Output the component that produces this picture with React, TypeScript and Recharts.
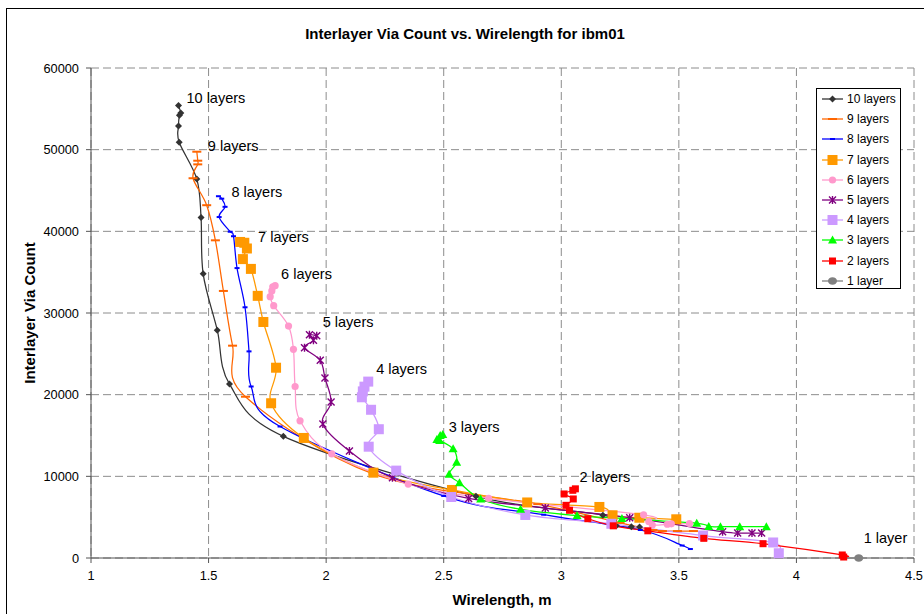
import React from 'react';
import { LineChart, Line, XAxis, YAxis, CartesianGrid } from 'recharts';

const FONT = '"Liberation Sans", Arial, Helvetica, sans-serif';

const xTicks = [1, 1.5, 2, 2.5, 3, 3.5, 4, 4.5];
const yTicks = [0, 10000, 20000, 30000, 40000, 50000, 60000];

// wirelength (m) / interlayer via count per layer stack, ordered from the top of each curve
const layers10 = [
  { x: 1.372, y: 55400 }, { x: 1.382, y: 54500 }, { x: 1.376, y: 54200 }, { x: 1.372, y: 52900 },
  { x: 1.375, y: 50900 }, { x: 1.45, y: 46400 }, { x: 1.468, y: 41700 }, { x: 1.477, y: 34800 },
  { x: 1.537, y: 27900 }, { x: 1.589, y: 21300 }, { x: 1.818, y: 14900 }, { x: 2.637, y: 7550 },
  { x: 3.177, y: 5240 }, { x: 3.234, y: 3950 }, { x: 3.298, y: 3830 }, { x: 3.333, y: 3800 },
];
const layers9 = [
  { x: 1.45, y: 49750 }, { x: 1.454, y: 48650 }, { x: 1.454, y: 48200 }, { x: 1.434, y: 46500 },
  { x: 1.492, y: 43200 }, { x: 1.529, y: 38900 }, { x: 1.563, y: 32700 }, { x: 1.602, y: 26000 },
  { x: 1.657, y: 19750 }, { x: 2.2, y: 10300 }, { x: 2.9, y: 6600 }, { x: 3.25, y: 4300 },
  { x: 3.39, y: 3430 }, { x: 3.43, y: 3300 }, { x: 3.494, y: 3300 }, { x: 3.562, y: 3300 },
];
const layers8 = [
  { x: 1.542, y: 44300 }, { x: 1.556, y: 44000 }, { x: 1.57, y: 43000 }, { x: 1.545, y: 41750 },
  { x: 1.592, y: 39950 }, { x: 1.606, y: 39400 }, { x: 1.621, y: 35500 }, { x: 1.655, y: 30700 },
  { x: 1.672, y: 25300 }, { x: 1.681, y: 21000 }, { x: 1.804, y: 16100 }, { x: 2.5, y: 7600 },
  { x: 2.925, y: 5300 }, { x: 3.336, y: 3430 }, { x: 3.514, y: 1530 }, { x: 3.549, y: 1100 },
];
const layers7 = [
  { x: 1.634, y: 38700 }, { x: 1.652, y: 38600 }, { x: 1.663, y: 37900 }, { x: 1.646, y: 36600 },
  { x: 1.68, y: 35400 }, { x: 1.709, y: 32100 }, { x: 1.733, y: 28900 }, { x: 1.787, y: 23300 },
  { x: 1.766, y: 18950 }, { x: 1.905, y: 14700 }, { x: 2.201, y: 10450 }, { x: 2.535, y: 8330 },
  { x: 2.855, y: 6800 }, { x: 3.162, y: 6250 }, { x: 3.218, y: 5230 }, { x: 3.332, y: 4930 },
  { x: 3.489, y: 4740 },
];
const layers6 = [
  { x: 1.783, y: 33350 }, { x: 1.773, y: 33200 }, { x: 1.769, y: 32700 }, { x: 1.762, y: 32000 },
  { x: 1.777, y: 30900 }, { x: 1.84, y: 28400 }, { x: 1.861, y: 25550 }, { x: 1.868, y: 21000 },
  { x: 1.889, y: 16800 }, { x: 2.024, y: 12750 }, { x: 2.349, y: 9050 }, { x: 2.691, y: 7300 },
  { x: 3.35, y: 5290 }, { x: 3.372, y: 4470 }, { x: 3.387, y: 4040 }, { x: 3.451, y: 4130 },
  { x: 3.468, y: 4190 }, { x: 3.545, y: 4220 },
];
const layers5 = [
  { x: 1.96, y: 27200 }, { x: 1.929, y: 27350 }, { x: 1.946, y: 26650 }, { x: 1.908, y: 25750 },
  { x: 1.975, y: 24200 }, { x: 1.995, y: 22050 }, { x: 2.021, y: 19100 }, { x: 1.986, y: 16400 },
  { x: 2.099, y: 13100 }, { x: 2.282, y: 9830 }, { x: 2.606, y: 7300 }, { x: 2.932, y: 6120 },
  { x: 3.291, y: 4930 }, { x: 3.686, y: 3220 }, { x: 3.75, y: 3060 }, { x: 3.811, y: 3060 },
  { x: 3.852, y: 3060 },
];
const layers4 = [
  { x: 2.179, y: 21600 }, { x: 2.163, y: 20980 }, { x: 2.156, y: 20400 }, { x: 2.152, y: 19680 },
  { x: 2.191, y: 18150 }, { x: 2.224, y: 15770 }, { x: 2.181, y: 13630 }, { x: 2.298, y: 10700 },
  { x: 2.532, y: 7470 }, { x: 2.847, y: 5270 }, { x: 3.213, y: 4190 }, { x: 3.603, y: 2750 },
  { x: 3.901, y: 1900 }, { x: 3.925, y: 580 },
];
const layers3 = [
  { x: 2.496, y: 15120 }, { x: 2.485, y: 15000 }, { x: 2.471, y: 14500 }, { x: 2.483, y: 14390 },
  { x: 2.54, y: 13370 }, { x: 2.555, y: 11730 }, { x: 2.523, y: 10260 }, { x: 2.567, y: 9220 },
  { x: 2.657, y: 7230 }, { x: 2.827, y: 5960 }, { x: 3.067, y: 5200 }, { x: 3.258, y: 4840 },
  { x: 3.576, y: 4250 }, { x: 3.627, y: 3860 }, { x: 3.677, y: 3830 }, { x: 3.759, y: 3830 },
  { x: 3.872, y: 3830 },
];
const layers2 = [
  { x: 3.06, y: 8470 }, { x: 3.049, y: 8290 }, { x: 3.012, y: 7840 }, { x: 3.051, y: 7230 },
  { x: 3.02, y: 6450 }, { x: 3.035, y: 5840 }, { x: 3.113, y: 4810 }, { x: 3.221, y: 3940 },
  { x: 3.368, y: 3330 }, { x: 3.606, y: 2410 }, { x: 3.858, y: 1750 }, { x: 4.195, y: 370 },
  { x: 4.201, y: 120 },
];
const layers1 = [{ x: 4.265, y: 0 }];

type Shape = 'diamond' | 'dash' | 'tick' | 'bigSquare' | 'circle' | 'star' | 'triangle' | 'square' | 'dot';

const series: { name: string; data: { x: number; y: number }[]; color: string; shape: Shape; dx: number; dy: number }[] = [
  { name: '10 layers', data: layers10, color: '#333333', shape: 'diamond', dx: 8, dy: -8 },
  { name: '9 layers', data: layers9, color: '#FF6600', shape: 'dash', dx: 11, dy: -6 },
  { name: '8 layers', data: layers8, color: '#0000FF', shape: 'tick', dx: 13, dy: -4 },
  { name: '7 layers', data: layers7, color: '#FF9900', shape: 'bigSquare', dx: 18, dy: -5 },
  { name: '6 layers', data: layers6, color: '#FF99CC', shape: 'circle', dx: 6, dy: -12 },
  { name: '5 layers', data: layers5, color: '#800080', shape: 'star', dx: 6, dy: -14 },
  { name: '4 layers', data: layers4, color: '#CC99FF', shape: 'bigSquare', dx: 8, dy: -13 },
  { name: '3 layers', data: layers3, color: '#00FF00', shape: 'triangle', dx: 6, dy: -8 },
  { name: '2 layers', data: layers2, color: '#FF0000', shape: 'square', dx: 4, dy: -12 },
  { name: '1 layer', data: layers1, color: '#808080', shape: 'dot', dx: 5, dy: -20 },
];

// Catmull-Rom style smoothing, close to the spreadsheet "smoothed line" look
const smoothCurve = (context: any) => {
  let pts: number[][] = [];
  return {
    areaStart() {},
    areaEnd() {},
    lineStart() {
      pts = [];
    },
    point(x: number, y: number) {
      pts.push([+x, +y]);
    },
    lineEnd() {
      const n = pts.length;
      if (!n) return;
      context.moveTo(pts[0][0], pts[0][1]);
      for (let i = 0; i < n - 1; i++) {
        const p0 = pts[i - 1] || pts[i];
        const p1 = pts[i];
        const p2 = pts[i + 1];
        const p3 = pts[i + 2] || p2;
        context.bezierCurveTo(
          p1[0] + (p2[0] - p0[0]) / 6,
          p1[1] + (p2[1] - p0[1]) / 6,
          p2[0] - (p3[0] - p1[0]) / 6,
          p2[1] - (p3[1] - p1[1]) / 6,
          p2[0],
          p2[1],
        );
      }
    },
  };
};

function Marker({ shape, color, cx, cy }: { shape: Shape; color: string; cx: number; cy: number }) {
  switch (shape) {
    case 'diamond':
      return <path d={`M${cx},${cy - 3.5}L${cx + 3.5},${cy}L${cx},${cy + 3.5}L${cx - 3.5},${cy}Z`} fill={color} />;
    case 'dash':
      return <rect x={cx - 4.5} y={cy - 1} width={9} height={2} fill={color} />;
    case 'tick':
      return <rect x={cx - 2.5} y={cy - 1} width={5} height={2} fill={color} />;
    case 'bigSquare':
      return <rect x={cx - 5} y={cy - 5} width={10} height={10} fill={color} />;
    case 'circle':
      return <circle cx={cx} cy={cy} r={3.6} fill={color} />;
    case 'star':
      return (
        <path
          d={`M${cx - 3.5},${cy - 3.5}L${cx + 3.5},${cy + 3.5}M${cx - 3.5},${cy + 3.5}L${cx + 3.5},${cy - 3.5}M${cx},${cy - 4}L${cx},${cy + 4}`}
          stroke={color}
          strokeWidth={1.4}
          fill="none"
        />
      );
    case 'triangle':
      return <path d={`M${cx},${cy - 4.5}L${cx + 4.5},${cy + 3.5}L${cx - 4.5},${cy + 3.5}Z`} fill={color} />;
    case 'square':
      return <rect x={cx - 3.5} y={cy - 3.5} width={7} height={7} fill={color} />;
    default:
      return <ellipse cx={cx} cy={cy} rx={4.5} ry={3.8} fill={color} />;
  }
}

const makeDot = (s: (typeof series)[number]) => (props: any) => {
  const { cx, cy, index } = props;
  return (
    <g key={`${s.name}-${index}`}>
      <Marker shape={s.shape} color={s.color} cx={cx} cy={cy} />
      {index === 0 && (
        <text x={cx + s.dx} y={cy + s.dy} fontSize={14.5} fontFamily={FONT} fill="#000" dominantBaseline="central">
          {s.name}
        </text>
      )}
    </g>
  );
};

function LegendBox() {
  return (
    <div
      style={{
        position: 'absolute',
        left: 809,
        top: 79,
        width: 85,
        height: 201,
        boxSizing: 'border-box',
        border: '1px solid #000',
        background: '#fff',
        fontFamily: FONT,
        fontSize: 12,
      }}
    >
      {series.map((s) => (
        <div key={s.name} style={{ height: 20.2, display: 'flex', alignItems: 'center', paddingLeft: 5 }}>
          <svg width={21} height={12} style={{ display: 'block' }}>
            <line x1={0} y1={6} x2={21} y2={6} stroke={s.color} strokeWidth={1.3} />
            <Marker shape={s.shape} color={s.color} cx={10.5} cy={6} />
          </svg>
          <span style={{ marginLeft: 4, whiteSpace: 'nowrap' }}>{s.name}</span>
        </div>
      ))}
    </div>
  );
}

export default function App() {
  return (
    <div
      style={{
        position: 'fixed',
        left: 6,
        top: 8,
        width: 918,
        height: 606,
        borderLeft: '1px solid #000',
        borderTop: '1px solid #000',
        background: '#fff',
        fontFamily: FONT,
      }}
    >
      <div
        style={{
          position: 'absolute',
          left: 158,
          top: 16,
          width: 600,
          lineHeight: '18px',
          textAlign: 'center',
          fontSize: 15,
          fontWeight: 'bold',
        }}
      >
        Interlayer Via Count vs. Wirelength for ibm01
      </div>
      <div style={{ position: 'absolute', left: 0, top: 0 }}>
        <LineChart width={917} height={605} margin={{ top: 59, right: 10, bottom: 26, left: 0 }}>
          <CartesianGrid stroke="#8c8c8c" strokeDasharray="8 4" />
          <XAxis
            type="number"
            dataKey="x"
            domain={[1, 4.5]}
            ticks={xTicks}
            interval={0}
            height={30}
            tickSize={5}
            tickMargin={8}
            axisLine={{ stroke: '#555' }}
            tickLine={{ stroke: '#555' }}
            tick={{ fontSize: 12.8, fill: '#000', fontFamily: FONT }}
          />
          <YAxis
            type="number"
            domain={[0, 60000]}
            ticks={yTicks}
            interval={0}
            width={84}
            tickSize={5}
            tickMargin={7}
            axisLine={{ stroke: '#555' }}
            tickLine={{ stroke: '#555' }}
            tick={{ fontSize: 12.8, fill: '#000', fontFamily: FONT }}
          />
          {series.map((s) => (
            <Line
              key={s.name}
              data={s.data}
              dataKey="y"
              name={s.name}
              type={smoothCurve as any}
              stroke={s.color}
              strokeWidth={1.25}
              dot={makeDot(s)}
              activeDot={false}
              isAnimationActive={false}
            />
          ))}
        </LineChart>
      </div>
      <LegendBox />
      <div
        style={{
          position: 'absolute',
          left: 395,
          top: 582,
          width: 200,
          lineHeight: '18px',
          textAlign: 'center',
          fontSize: 15,
          fontWeight: 'bold',
        }}
      >
        Wirelength, m
      </div>
      <div
        style={{
          position: 'absolute',
          left: -77,
          top: 295,
          width: 200,
          lineHeight: '18px',
          textAlign: 'center',
          fontSize: 15,
          fontWeight: 'bold',
          transform: 'rotate(-90deg)',
        }}
      >
        Interlayer Via Count
      </div>
    </div>
  );
}
